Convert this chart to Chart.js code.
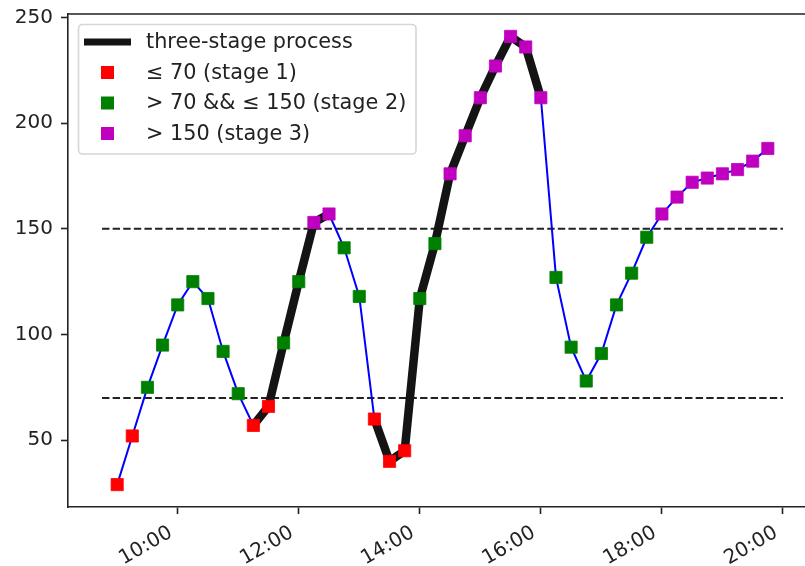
<!DOCTYPE html>
<html><head><meta charset="utf-8">
<script src="https://cdn.jsdelivr.net/npm/chart.js@4"></script>
<style>
html,body{margin:0;padding:0;background:#fff;overflow:hidden;width:805px;height:566px}
#wrap{width:805px;height:566px;overflow:hidden;position:relative}
canvas{display:block}
</style></head>
<body><div id="wrap"><canvas id="c" width="830" height="566"></canvas></div>
<script>
// ---- data ----
const times = ['9:00','9:15','9:30','9:45','10:00','10:15','10:30','10:45','11:00','11:15','11:30','11:45',
  '12:00','12:15','12:30','12:45','13:00','13:15','13:30','13:45','14:00','14:15','14:30','14:45',
  '15:00','15:15','15:30','15:45','16:00','16:15','16:30','16:45','17:00','17:15','17:30','17:45',
  '18:00','18:15','18:30','18:45','19:00','19:15','19:30','19:45'];
const values = [29,52,75,95,114,125,117,92,72,57,66,96,
  125,153,157,141,118,60,40,45,117,143,176,194,
  212,227,241,236,212,127,94,78,91,114,129,146,
  157,165,172,174,176,178,182,188];
const thresholds = [70, 150];
const thresholdSpan = ['8:45', '20:00'];
const processSpans = [['11:15','12:30'], ['13:15','16:00']];
const xTickLabels = ['10:00','12:00','14:00','16:00','18:00','20:00'];
const yTickValues = [50,100,150,200,250];
const xRange = ['8:11:15', '20:33:45'];
const yRange = [18.4, 251.6];
const legendLabels = ['three-stage process','\u2264 70 (stage 1)','> 70 && \u2264 150 (stage 2)','> 150 (stage 3)'];

// ---- helpers ----
function toMin(s){ const p = s.split(':').map(Number); return p[0]*60 + p[1] + (p[2]||0)/60; }

const COL = {red:'#ff0000', green:'#008000', mag:'#bf00bf', blue:'#0000ff', black:'#141414', text:'#222222'};
const FAMILY = '"DejaVu Sans", sans-serif';
const TICKFONT = {family:FAMILY, size:20};
const LEGENDSIZE = 20.8;

const xs = times.map(toMin);
const allPts = xs.map((x,i)=>({x, y: values[i]}));
const inProcess = x => processSpans.some(([a,b]) => x >= toMin(a) && x <= toMin(b));
const thickPts = xs.map((x,i)=>({x, y: inProcess(x) ? values[i] : null}));
const st1 = allPts.filter(p => p.y <= thresholds[0]);
const st2 = allPts.filter(p => p.y > thresholds[0] && p.y <= thresholds[1]);
const st3 = allPts.filter(p => p.y > thresholds[1]);

const markerDs = (label, data, c) => ({label, data, showLine:false, pointStyle:'rect', pointRadius:8.6,
  pointBackgroundColor:c, pointBorderColor:c, pointBorderWidth:0.8, order:0});

const datasets = [
  markerDs(legendLabels[1], st1, COL.red),
  markerDs(legendLabels[2], st2, COL.green),
  markerDs(legendLabels[3], st3, COL.mag),
  {label:legendLabels[0], data:thickPts, borderColor:COL.black, borderWidth:8.5, pointRadius:0,
   spanGaps:false, borderJoinStyle:'round', borderCapStyle:'round', order:1},
  {label:'series', data:allPts, borderColor:COL.blue, borderWidth:2, pointRadius:0, order:2},
  ...thresholds.map(t => ({label:'thr'+t, data: thresholdSpan.map(s=>({x:toMin(s), y:t})),
     borderColor:'#222', borderWidth:2, borderDash:[7.4,3.2], pointRadius:0, order:3}))
];

const frame = {
  id:'frame',
  afterDatasetsDraw(chart){
    const {ctx, chartArea:a} = chart;
    ctx.save();
    ctx.strokeStyle = COL.text; ctx.lineWidth = 1.6;
    ctx.beginPath(); ctx.moveTo(a.left, a.top); ctx.lineTo(a.right, a.top); ctx.lineTo(a.right, a.bottom); ctx.stroke();
    ctx.restore();
  }
};

// rotated x tick labels, anchored like matplotlib's autofmt_xdate (rotation 30, right aligned)
const xLabels = {
  id:'xLabels',
  afterDraw(chart){
    const {ctx} = chart; const sx = chart.scales.x;
    ctx.save();
    ctx.font = TICKFONT.size + 'px ' + FAMILY;
    ctx.fillStyle = COL.text; ctx.textAlign = 'right'; ctx.textBaseline = 'alphabetic';
    xTickLabels.forEach(l => {
      const px = sx.getPixelForValue(toMin(l));
      ctx.save();
      ctx.translate(px - 4.3, sx.top + 29);
      ctx.rotate(-Math.PI/6);
      ctx.fillText(l, 0, 0);
      ctx.restore();
    });
    ctx.restore();
  }
};

const legendBox = {
  id:'legendBox',
  afterDraw(chart){
    const ctx = chart.ctx;
    ctx.save();
    const bx = 78.5, by = 24.5, bw = 337.5, bh = 129.5;
    ctx.beginPath(); ctx.roundRect(bx, by, bw, bh, 4);
    ctx.fillStyle = 'rgba(255,255,255,0.8)'; ctx.fill();
    ctx.strokeStyle = '#d6d6d6'; ctx.lineWidth = 1.6; ctx.stroke();
    const rows = [42, 72.5, 103, 133.5];
    const cols = [null, COL.red, COL.green, COL.mag];
    ctx.font = LEGENDSIZE + 'px ' + FAMILY;
    ctx.textBaseline = 'middle'; ctx.textAlign = 'left';
    rows.forEach((y,i) => {
      if (i === 0) {
        ctx.strokeStyle = COL.black; ctx.lineWidth = 7;
        ctx.beginPath(); ctx.moveTo(84, y); ctx.lineTo(131, y); ctx.stroke();
      } else {
        ctx.fillStyle = cols[i]; ctx.fillRect(101, y-6.5, 13, 13);
      }
      ctx.fillStyle = COL.text;
      ctx.fillText(legendLabels[i], 146, y + 1);
    });
    ctx.restore();
  }
};

new Chart(document.getElementById('c'), {
  type:'line',
  data:{datasets},
  options:{
    responsive:false, animation:false, devicePixelRatio:1,
    layout:{padding:{top:14, right:13, left:0, bottom:0}},
    plugins:{legend:{display:false}, tooltip:{enabled:false}},
    scales:{
      x:{type:'linear', min:toMin(xRange[0]), max:toMin(xRange[1]),
        afterBuildTicks:s => { s.ticks = xTickLabels.map(l => ({value: toMin(l)})); },
        afterFit:s => { s.height = 59; s.paddingLeft = 0; s.paddingRight = 0; s.paddingTop = 0; s.paddingBottom = 0; },
        grid:{display:true, drawOnChartArea:false, tickLength:7, tickWidth:1.6, tickColor:COL.text},
        border:{display:true, color:COL.text, width:1.6},
        ticks:{display:false}},
      y:{type:'linear', min:yRange[0], max:yRange[1],
        afterBuildTicks:s => { s.ticks = yTickValues.map(v => ({value:v})); },
        afterFit:s => { s.width = 68; s.paddingTop = 0; s.paddingBottom = 0; s.paddingLeft = 0; s.paddingRight = 0; },
        grid:{display:true, drawOnChartArea:false, tickLength:7, tickWidth:1.6, tickColor:COL.text},
        border:{display:true, color:COL.text, width:1.6},
        ticks:{font:TICKFONT, color:COL.text, padding:8, callback:v => String(v)}}
    }
  },
  plugins:[frame, xLabels, legendBox]
});
</script></body></html>
